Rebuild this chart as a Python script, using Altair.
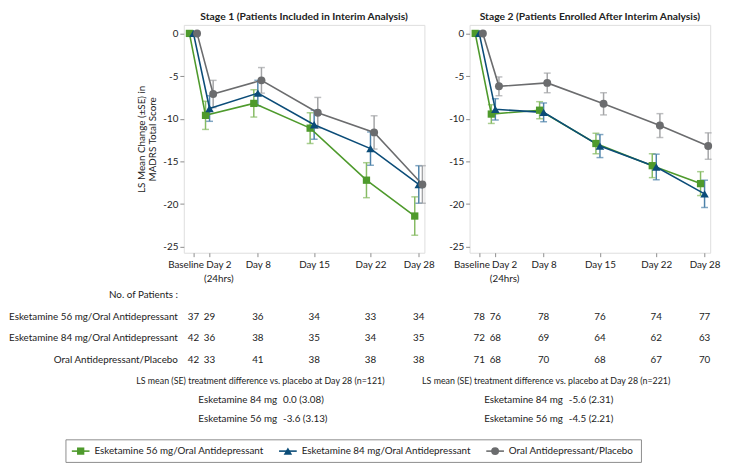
import altair as alt
import pandas as pd

# ---------------- data ----------------
visit_days = [0, 2, 8, 15, 22, 28]
visit_labels = ["Baseline", "Day 2|(24hrs)", "Day 8", "Day 15", "Day 22", "Day 28"]
groups = ["Esketamine 56 mg/Oral Antidepressant",
          "Esketamine 84 mg/Oral Antidepressant",
          "Oral Antidepressant/Placebo"]
panel_titles = ["Stage 1 (Patients Included in Interim Analysis)",
                "Stage 2 (Patients Enrolled After Interim Analysis)"]
y_title = ["LS Mean Change (\u00b1SE) in", "MADRS Total Score"]
y_ticks = [-25, -20, -15, -10, -5, 0]

s1_mean_56 = [0, -9.6, -8.2, -11.1, -17.2, -21.4]
s1_se_56 = [0, 1.65, 1.6, 1.8, 2.05, 2.25]
s1_mean_84 = [0, -8.8, -7.0, -10.7, -13.5, -17.7]
s1_se_84 = [0, 1.5, 1.5, 1.7, 1.95, 2.2]
s1_mean_pbo = [0, -7.1, -5.5, -9.3, -11.6, -17.7]
s1_se_pbo = [0, 1.6, 1.5, 1.8, 1.95, 2.2]

s2_mean_56 = [0, -9.45, -9.0, -12.9, -15.5, -17.6]
s2_se_56 = [0, 1.1, 1.0, 1.2, 1.4, 1.4]
s2_mean_84 = [0, -8.9, -9.25, -13.2, -15.65, -18.8]
s2_se_84 = [0, 1.25, 1.1, 1.35, 1.5, 1.6]
s2_mean_pbo = [0, -6.2, -5.8, -8.25, -10.8, -13.2]
s2_se_pbo = [0, 1.1, 1.15, 1.3, 1.4, 1.55]

s1_n_56 = [37, 29, 36, 34, 33, 34]
s1_n_84 = [42, 36, 38, 35, 34, 35]
s1_n_pbo = [42, 33, 41, 38, 38, 38]
s2_n_56 = [78, 76, 78, 76, 74, 77]
s2_n_84 = [72, 68, 69, 64, 62, 63]
s2_n_pbo = [71, 68, 70, 68, 67, 70]

diff_labels = ["Esketamine 84 mg", "Esketamine 56 mg"]
s1_diff_n = 121
s1_diff = ["0.0 (3.08)", "-3.6 (3.13)"]
s2_diff_n = 221
s2_diff = ["-5.6 (2.31)", "-4.5 (2.21)"]

# ---------------- style ----------------
FONT = "Lato"
FS = 10
TXT = "#222222"
FRAME = "#8c8c8c"
line_colors = ["#4e9a2c", "#0b4c78", "#6b6c6e"]
err_colors = ["#86bb63", "#4d82aa", "#a3a4a6"]
marker_shapes = ["square", "triangle-up", "circle"]
marker_sizes = [55, 75, 65]
dodge = [-0.5, 0.0, 0.45]
H = 232
W = 245
GAP = 46
# legend layout (pixels relative to the left panel's plot origin)
LEG_SYM = [-105, 106, 317]
LEG_TXT = [-91, 120, 331]
LEG_BOX = (-120, 466)
LEG_Y = H + 202


def label_expr():
    parts = []
    for d, lab in zip(visit_days, visit_labels):
        lines = lab.split("|")
        if len(lines) > 1:
            v = "[" + ",".join("'%s'" % l for l in lines) + "]"
        else:
            v = "'%s'" % lab
        parts.append("datum.value == %s ? %s : " % (d, v))
    return "".join(parts) + "''"


def one():
    return alt.Chart(pd.DataFrame({"t": [""]}))


def txt(text, x, y, align="center", size=FS):
    return alt.Chart(pd.DataFrame({"t": [text]})).mark_text(
        font=FONT, fontSize=size, color=TXT, align=align, baseline="middle"
    ).encode(text="t:N", x=alt.value(x), y=alt.value(y))


def legend_layers():
    out = [one().mark_rect(fill="white", fillOpacity=0, stroke=FRAME, strokeWidth=1).encode(
        x=alt.value(LEG_BOX[0]), x2=alt.value(LEG_BOX[1]),
        y=alt.value(LEG_Y - 11.5), y2=alt.value(LEG_Y + 11.5))]
    for gi, g in enumerate(groups):
        c = LEG_SYM[gi]
        out.append(one().mark_rule(strokeWidth=1.6, color=line_colors[gi]).encode(
            x=alt.value(c - 9), x2=alt.value(c + 9), y=alt.value(LEG_Y)))
        out.append(one().mark_point(shape=marker_shapes[gi], filled=True, opacity=1,
                                    color=line_colors[gi], size=marker_sizes[gi]).encode(
            x=alt.value(c), y=alt.value(LEG_Y)))
        out.append(txt(g, LEG_TXT[gi], LEG_Y, align="left"))
    return out


def panel(idx, means, ses, counts, diff_n, diffs):
    rows = []
    for gi, g in enumerate(groups):
        for d, m, s in zip(visit_days, means[gi], ses[gi]):
            rows.append({"group": g, "day": d, "xd": d + dodge[gi], "mean": m,
                         "lo": m - s, "hi": m + s, "se": s})
    df = pd.DataFrame(rows)
    base = alt.Chart(df)

    xscale = alt.Scale(domain=[-1.2, 28.7], nice=False, zero=False)
    yscale = alt.Scale(domain=[-25.7, 1.0], nice=False, zero=False)
    xaxis = alt.Axis(values=visit_days, labelExpr=label_expr(), title=None, grid=False,
                     domain=False, tickSize=4, tickColor=FRAME, labelPadding=3,
                     labelLineHeight=14, labelFont=FONT, labelFontSize=FS, labelColor=TXT,
                     labelOverlap=False, labelFlush=False, labelBaseline="top",
                     labelOffset={"expr": "datum.value == 0 ? -8 : datum.value == 2 ? 9 : 0"})
    ykw = dict(values=y_ticks, grid=False, domain=False, tickSize=4, tickColor=FRAME,
               labelPadding=2, labelFont=FONT, labelFontSize=FS, labelColor=TXT,
               labelExpr="'' + datum.value")
    if idx == 0:
        yaxis = alt.Axis(title=y_title, titleFont=FONT, titleFontSize=FS,
                         titleFontWeight="normal", titleColor=TXT, titlePadding=5, **ykw)
    else:
        yaxis = alt.Axis(title=None, **ykw)

    x_enc = alt.X("xd:Q", scale=xscale, axis=xaxis)
    err_scale = alt.Scale(domain=groups, range=err_colors)
    color_enc = alt.Color("group:N", scale=alt.Scale(domain=groups, range=line_colors),
                          legend=None)

    eb = base.transform_filter("datum.se > 0")
    layers = [
        eb.mark_rule(strokeWidth=1.5).encode(
            x=x_enc, y=alt.Y("lo:Q", scale=yscale, axis=yaxis), y2="hi:Q",
            stroke=alt.Stroke("group:N", scale=err_scale, legend=None)),
        eb.mark_tick(orient="horizontal", size=7, thickness=1.5).encode(
            x=x_enc, y=alt.Y("lo:Q", scale=yscale, axis=yaxis),
            fill=alt.Fill("group:N", scale=err_scale, legend=None)),
        eb.mark_tick(orient="horizontal", size=7, thickness=1.5).encode(
            x=x_enc, y=alt.Y("hi:Q", scale=yscale, axis=yaxis),
            fill=alt.Fill("group:N", scale=err_scale, legend=None)),
        base.mark_line(strokeWidth=1.6).encode(
            x=x_enc, y=alt.Y("mean:Q", scale=yscale, axis=yaxis), color=color_enc),
    ]
    for gi, g in enumerate(groups):
        layers.append(
            base.transform_filter(alt.datum.group == g).mark_point(
                shape=marker_shapes[gi], filled=True, opacity=1, color=line_colors[gi],
                size=marker_sizes[gi]
            ).encode(x=x_enc, y=alt.Y("mean:Q", scale=yscale, axis=yaxis)))

    # patient counts table
    trows = []
    for gi, g in enumerate(groups):
        for d, n in zip(visit_days, counts[gi]):
            trows.append({"row": gi, "day": d, "n": str(n)})
    tdf = pd.DataFrame(trows)
    row_y = [H + 65, H + 87, H + 109]
    for gi in range(3):
        layers.append(
            alt.Chart(tdf).transform_filter("datum.row == %d" % gi).mark_text(
                font=FONT, fontSize=FS, color=TXT, baseline="middle"
            ).encode(x=alt.X("day:Q", scale=xscale, axis=xaxis), y=alt.value(row_y[gi]),
                     text="n:N"))
    if idx == 0:
        layers.append(txt("No. of Patients :", -6, H + 43, align="right"))
        for gi, g in enumerate(groups):
            layers.append(txt(g, -6, row_y[gi], align="right"))
        layers += legend_layers()
    hx, lx, vx = 78, 95, 101
    layers.append(txt("LS mean (SE) treatment difference vs. placebo at Day 28 (n=%d)" % diff_n,
                      hx, H + 131, size=9))
    for k in range(2):
        layers.append(txt(diff_labels[k], lx, H + 150 + 19 * k, align="right"))
        layers.append(txt(diffs[k], vx, H + 150 + 19 * k, align="left"))

    return alt.layer(*layers).properties(
        width=W, height=H,
        title=alt.TitleParams(panel_titles[idx], font=FONT, fontSize=10.5, fontWeight="bold",
                              color=TXT, offset=2, anchor="middle"))


p1 = panel(0, [s1_mean_56, s1_mean_84, s1_mean_pbo], [s1_se_56, s1_se_84, s1_se_pbo],
           [s1_n_56, s1_n_84, s1_n_pbo], s1_diff_n, s1_diff)
p2 = panel(1, [s2_mean_56, s2_mean_84, s2_mean_pbo], [s2_se_56, s2_se_84, s2_se_pbo],
           [s2_n_56, s2_n_84, s2_n_pbo], s2_diff_n, s2_diff)

chart = alt.hconcat(p1, p2, spacing=GAP, bounds="flush").resolve_scale(
    color="independent", stroke="independent", fill="independent"
).properties(
    padding=0
).configure_view(stroke=FRAME, strokeWidth=1).configure(font=FONT)

chart.save("out.html", embed_options={"renderer": "svg", "actions": False})
